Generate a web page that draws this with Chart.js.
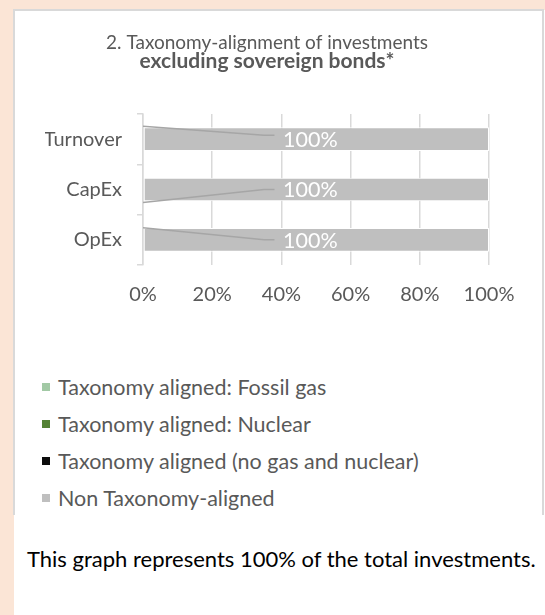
<!DOCTYPE html>
<html>
<head>
<meta charset="utf-8">
<script src="https://cdn.jsdelivr.net/npm/chart.js@4/dist/chart.umd.min.js"></script>
<style>
  html, body { margin: 0; padding: 0; }
  body { width: 545px; height: 615px; background: #FBE5D6; position: relative; overflow: hidden; font-family: Lato, "Noto Sans", sans-serif; }
  #sheet { position: absolute; left: 14px; top: 10px; width: 531px; height: 605px; background: #fff; }
  #panel { position: absolute; left: 13px; top: 9px; width: 531px; height: 506px; border: 2px solid #D9D9D9; border-bottom: none; box-sizing: border-box; background: #fff; }
  #chartBox { position: absolute; left: 15px; top: 11px; width: 528px; height: 318px; }
  #legend { position: absolute; left: 42px; top: 368px; }
  .item { height: 37px; display: flex; align-items: center; color: #595959; font-size: 21.5px; white-space: nowrap; }
  .item span.sw { width: 8px; height: 8px; margin-right: 8px; display: inline-block; }
  #note { position: absolute; left: 27px; top: 546px; font-size: 22px; line-height: 26px; color: #000; white-space: nowrap; }
</style>
</head>
<body>
<div id="sheet"></div>
<div id="panel"></div>
<div id="chartBox"><canvas id="taxChart"></canvas></div>
<div id="legend"></div>
<div id="note">This graph represents 100% of the total investments.</div>
<script>
const categories = ['Turnover', 'CapEx', 'OpEx'];
const seriesNames = [
    'Taxonomy aligned: Fossil gas',
    'Taxonomy aligned: Nuclear',
    'Taxonomy aligned (no gas and nuclear)',
    'Non Taxonomy-aligned'
];
const fossilGas = [0, 0, 0];
const nuclear = [0, 0, 0];
const alignedOther = [0, 0, 0];
const nonAligned = [100, 100, 100];
const xTicks = [0, 20, 40, 60, 80, 100];
const seriesColors = ['#A2C9A5', '#548235', '#0D0D0D', '#BFBFBF'];

const grey = '#595959';
const lineGrey = '#D9D9D9';

// white value labels + the leader lines of the empty labels
const labelPlugin = {
    id: 'labels',
    afterDatasetsDraw(chart) {
        const ctx = chart.ctx;
        const xs = chart.scales.x;
        const ys = chart.scales.y;
        ctx.save();
        // leader lines
        const offs = [[-13, -4], [13, 0], [-12, 0]];
        ctx.strokeStyle = '#A6A6A6';
        ctx.lineWidth = 1.5;
        categories.forEach((c, i) => {
            const y = ys.getPixelForValue(i);
            ctx.beginPath();
            ctx.moveTo(xs.getPixelForValue(0), y + offs[i][0]);
            ctx.lineTo(xs.getPixelForValue(35), y + offs[i][1]);
            ctx.lineTo(xs.getPixelForValue(38), y + offs[i][1]);
            ctx.stroke();
        });
        const last = chart.data.datasets.length - 1;
        const meta = chart.getDatasetMeta(last);
        ctx.fillStyle = '#fff';
        ctx.font = '21.5px Lato, sans-serif';
        ctx.textAlign = 'center';
        ctx.textBaseline = 'middle';
        meta.data.forEach((bar, i) => {
            const v = chart.data.datasets[last].data[i];
            ctx.fillText(v + '%', (bar.x + bar.base) / 2 - 6, bar.y + 1);
        });
        ctx.restore();
    }
};

const datasets = [fossilGas, nuclear, alignedOther, nonAligned].map((d, i) => ({
    label: seriesNames[i],
    data: d,
    backgroundColor: seriesColors[i],
    borderColor: '#fff',
    borderWidth: i === 3 ? 1 : 0,
    borderSkipped: false,
    categoryPercentage: 1,
    barPercentage: 0.47
}));

const chart = new Chart(document.getElementById('taxChart'), {
    type: 'bar',
    data: { labels: categories, datasets: datasets },
    options: {
        indexAxis: 'y',
        responsive: true,
        maintainAspectRatio: false,
        animation: false,
        layout: { padding: { left: 30, right: 54, bottom: 4 } },
        plugins: {
            legend: { display: false },
            tooltip: { enabled: false },
            title: {
                display: true,
                text: '2. Taxonomy-alignment of investments',
                color: grey,
                font: { family: 'Lato', size: 19, weight: 'normal' },
                padding: { top: 20, bottom: 0 }
            },
            subtitle: {
                display: true,
                text: 'excluding sovereign bonds*',
                color: grey,
                font: { family: 'Lato', size: 21, weight: 'bold' },
                padding: { top: -5, bottom: 40 }
            }
        },
        scales: {
            x: {
                stacked: true,
                min: 0,
                max: 100,
                afterBuildTicks: s => { s.ticks = xTicks.map(v => ({ value: v })); },
                ticks: { callback: v => v + '%', color: grey, font: { family: 'Lato', size: 20 }, padding: 18 },
                grid: { color: lineGrey, lineWidth: 1.5, drawTicks: false },
                border: { display: false }
            },
            y: {
                stacked: true,
                afterFit: s => { s.width = 98; },
                ticks: { color: grey, font: { family: 'Lato', size: 20 }, padding: 15 },
                grid: { offset: true, drawOnChartArea: false, tickLength: 6, color: lineGrey, lineWidth: 1.5 },
                border: { color: lineGrey, width: 1.5 }
            }
        }
    },
    plugins: [labelPlugin]
});

// legend as a vertical list, built from the chart's datasets
const legendEl = document.getElementById('legend');
chart.data.datasets.forEach(ds => {
    const row = document.createElement('div');
    row.className = 'item';
    const sw = document.createElement('span');
    sw.className = 'sw';
    sw.style.background = ds.backgroundColor;
    row.appendChild(sw);
    row.appendChild(document.createTextNode(ds.label));
    legendEl.appendChild(row);
});
</script>
</body>
</html>
